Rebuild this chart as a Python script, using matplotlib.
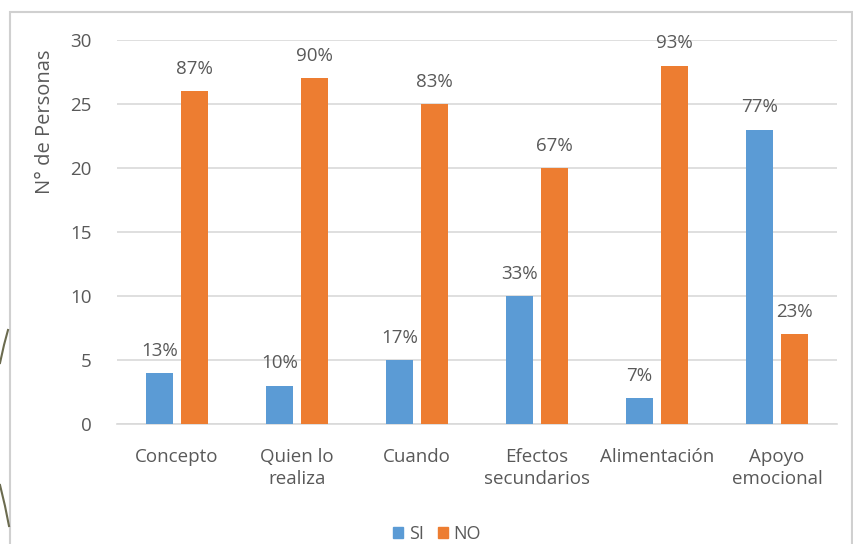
import numpy as np
import matplotlib
matplotlib.use("Agg")
from matplotlib import pyplot as plt
from matplotlib.patches import Rectangle, Patch
from matplotlib.lines import Line2D

categories = ["Concepto", "Quien lo\nrealiza", "Cuando", "Efectos\nsecundarios",
              "Alimentación", "Apoyo\nemocional"]
si_values = [4, 3, 5, 10, 2, 23]
no_values = [26, 27, 25, 20, 28, 7]
si_pct = ["13%", "10%", "17%", "33%", "7%", "77%"]
no_pct = ["87%", "90%", "83%", "67%", "93%", "23%"]

BLUE = "#5B9BD5"
ORANGE = "#ED7D31"
TEXT = "#595959"
GRID = "#D9D9D9"

plt.rcParams["font.family"] = ["Open Sans", "DejaVu Sans"]

fig = plt.figure(figsize=(8.54, 5.44), dpi=100)
fig.patch.set_facecolor("white")
ax = fig.add_axes([0.137, 0.2206, 0.843, 0.706])

x = np.arange(len(categories))
w = 0.22
off = 0.145
ax.bar(x - off, si_values, w, color=BLUE, label="SI", zorder=3)
ax.bar(x + off, no_values, w, color=ORANGE, label="NO", zorder=3)

for xi, v, t in zip(x, si_values, si_pct):
    ax.annotate(t, (xi - off, v), xytext=(0, 16), textcoords="offset points",
                ha="center", va="center", fontsize=13.5, color=TEXT)
for xi, v, t in zip(x, no_values, no_pct):
    ax.annotate(t, (xi + off, v), xytext=(0, 16), textcoords="offset points",
                ha="center", va="center", fontsize=13.5, color=TEXT)

ax.set_xlim(-0.5, len(categories) - 0.5)
ax.set_ylim(0, 30)
ax.set_yticks(range(0, 31, 5))
ax.set_xticks(x)
ax.set_xticklabels(categories, fontsize=13.5, color=TEXT, linespacing=1.3)
ax.tick_params(axis="y", labelsize=13.5, labelcolor=TEXT, length=0, pad=18)
ax.tick_params(axis="x", length=0, pad=17)
ax.yaxis.grid(True, color=GRID, lw=1.2, zorder=0)
for s in ["top", "right", "left"]:
    ax.spines[s].set_visible(False)
ax.spines["bottom"].set_color(GRID)
ax.spines["bottom"].set_linewidth(1.2)

fig.text(45 / 854, 1 - 122 / 544, "N° de Personas", rotation=90, ha="center",
         va="center", fontsize=14.5, color=TEXT)

handles = [Patch(color=BLUE, label="SI"), Patch(color=ORANGE, label="NO")]
fig.legend(handles=handles, loc="center", bbox_to_anchor=(437 / 854, 1 - 534 / 544),
           ncol=2, frameon=False, fontsize=13, handlelength=0.55, handleheight=0.55,
           handletextpad=0.3, columnspacing=0.8, labelcolor=TEXT)

# outer border of the pasted chart
fig.patches.append(Rectangle((10 / 854, -0.01), 842 / 854, 1 - 12 / 544 + 0.01,
                             transform=fig.transFigure, fill=False,
                             edgecolor="#D0D0D0", lw=1.5))

# decorative curves on the left edge
fig.add_artist(Line2D([0, 4 / 854, 8 / 854], [1 - 363 / 544, 1 - 345 / 544, 1 - 330 / 544],
                      transform=fig.transFigure, color="#6B6B4F", lw=1.5))
fig.add_artist(Line2D([0, 5 / 854, 9 / 854], [1 - 485 / 544, 1 - 506 / 544, 1 - 526 / 544],
                      transform=fig.transFigure, color="#6B6B4F", lw=1.5))

fig.savefig("out.png", dpi=100, facecolor="white")
